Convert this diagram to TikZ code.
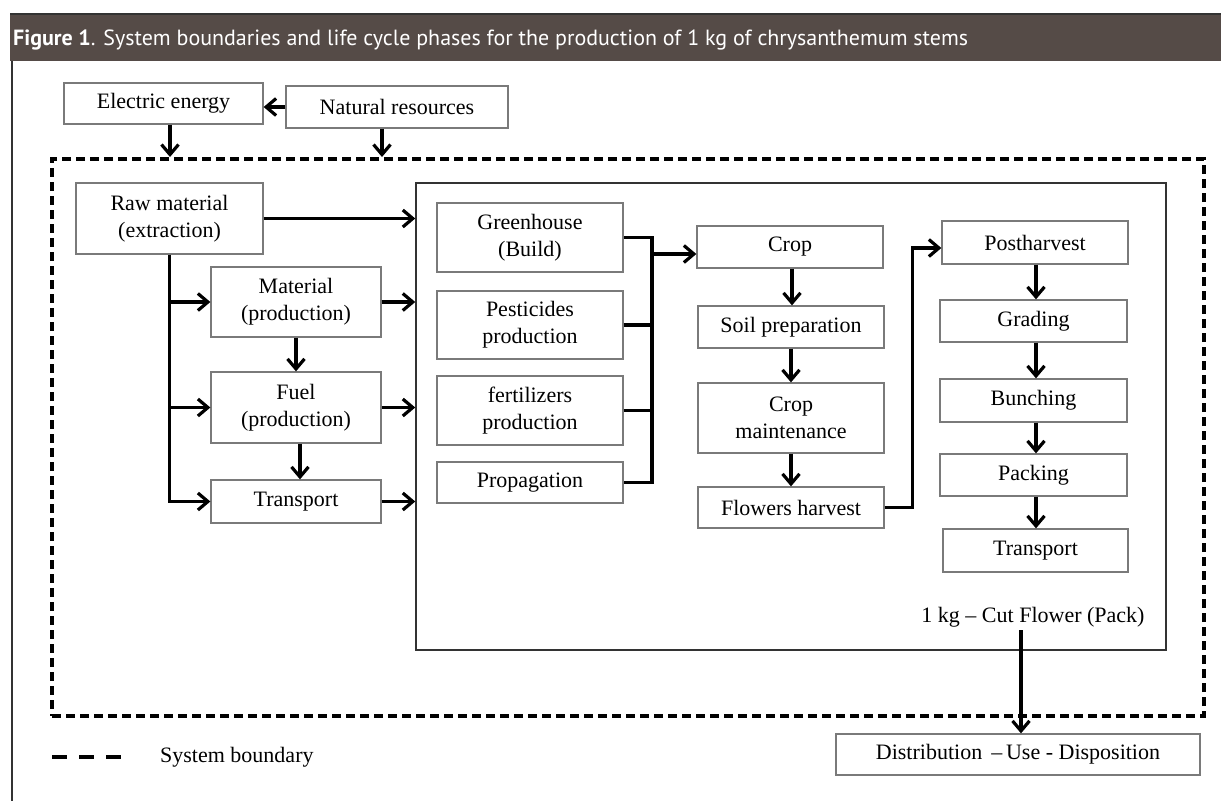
\documentclass[tikz,border=0pt]{standalone}
\usepackage{fontspec}
\setmainfont{Liberation Serif}
\newfontfamily\hdrfont{PT Sans}
\usetikzlibrary{arrows.meta,calc}
\definecolor{hdr}{HTML}{554B47}
\definecolor{hdrline}{HTML}{333333}
\definecolor{boxgray}{HTML}{7A7A7A}
\definecolor{innergray}{HTML}{333333}
\begin{document}
\begin{tikzpicture}[x=1pt,y=-1pt,
  box/.style={draw=boxgray, line width=1.3pt, fill=white, inner sep=0pt, align=center,
    font=\fontsize{22}{27}\selectfont},
  arr/.style={line width=3.2pt, -{Straight Barb[length=10pt,width=17pt]}},
  ln/.style={line width=3.2pt},
  bound/.style={draw=black, line width=4pt, dash pattern=on 9pt off 5pt, inner sep=0pt},
  lbl/.style={inner sep=0pt, font=\fontsize{22}{27}\selectfont}]
\useasboundingbox (0,0) rectangle (1221,801);
% frame and header
\fill[white] (0,0) rectangle (1221,801);
\fill[hdr] (10,13) rectangle (1221,61);
\draw[hdrline, line width=2.5pt] (10,14) -- (1221,14);
\draw[hdrline, line width=2.5pt] (12,61) -- (12,801);
\node[anchor=base west, text=white, inner sep=0pt] (title) at (13,45)
  {\resizebox{955pt}{!}{\hdrfont\fontsize{20}{24}\selectfont\textbf{Figure 1}. System boundaries and life cycle phases for the production of 1 kg of chrysanthemum stems}};
% system boundary and inner box
\node[bound, minimum width=1152pt, minimum height=557pt] (bnd) at (628,437.5) {};
\node[draw=innergray, line width=1.5pt, inner sep=0pt, minimum width=750pt, minimum height=467pt] (inner) at (791,416.5) {};
% top inputs
\node[box, minimum width=199pt, minimum height=41pt] (elec) at (163.5,103.5) {Electric energy};
\node[box, minimum width=222pt, minimum height=42pt] (nat) at (397,107) {Natural resources};
% left column
\node[box, minimum width=187pt, minimum height=71pt] (raw) at (169.5,218.5) {Raw material\\(extraction)};
\node[box, minimum width=170pt, minimum height=70pt] (mat) at (296,302) {Material\\(production)};
\node[box, minimum width=170pt, minimum height=71pt] (fuel) at (296,407.5) {Fuel\\(production)};
\node[box, minimum width=170pt, minimum height=43pt] (tr1) at (296,501.5) {Transport};
% inputs column
\node[box, minimum width=186pt, minimum height=69pt] (green) at (530,237.5) {Greenhouse\\(Build)};
\node[box, minimum width=186pt, minimum height=68pt] (pest) at (530,325) {Pesticides\\production};
\node[box, minimum width=186pt, minimum height=69pt] (fert) at (530,410.5) {fertilizers\\production};
\node[box, minimum width=186pt, minimum height=41pt] (prop) at (530,482.5) {Propagation};
% crop column
\node[box, minimum width=186pt, minimum height=42pt] (crop) at (790,247) {Crop};
\node[box, minimum width=186pt, minimum height=42pt] (soil) at (791,327) {Soil preparation};
\node[box, minimum width=186pt, minimum height=70pt] (maint) at (791,418) {Crop\\maintenance};
\node[box, minimum width=186pt, minimum height=41pt] (harv) at (791,507.5) {Flowers harvest};
% postharvest column
\node[box, minimum width=186pt, minimum height=43pt] (post) at (1035,242.5) {Postharvest};
\node[box, minimum width=187pt, minimum height=42pt] (grad) at (1033.5,321) {Grading};
\node[box, minimum width=187pt, minimum height=43pt] (bunch) at (1033.5,400.5) {Bunching};
\node[box, minimum width=187pt, minimum height=42pt] (pack) at (1033.5,475) {Packing};
\node[box, minimum width=185pt, minimum height=43pt] (tr2) at (1035.5,550.5) {Transport};
\node[lbl] (cut) at (1033,617) {1 kg -- Cut Flower (Pack)};
% output
\node[box, minimum width=364pt, minimum height=41pt] (dist) at (1018,754.5) {Distribution \,--\,Use - Disposition};
% legend
\coordinate (lg1) at (52,757);
\coordinate (lg2) at (123,757);
\draw[line width=4pt, dash pattern=on 15pt off 12pt] (lg1) -- (lg2);
\node[lbl, anchor=west] (lgt) at (160,757) {System boundary};
% connectors: top
\draw[arr] (nat.west) -- (nat.west -| elec.east);
\coordinate (e1) at ([xshift=6.5pt]elec.south);
\draw[arr] (e1) -- (e1 |- bnd.north);
\coordinate (n1) at ([xshift=-15pt]nat.south);
\draw[arr] (n1) -- (n1 |- bnd.north);
% left column
\draw[arr] (raw.east) -- (raw.east -| inner.west);
\draw[arr] (raw.south) |- (tr1.west);
\draw[arr] (raw.south |- mat.west) -- (mat.west);
\draw[arr] (raw.south |- fuel.west) -- (fuel.west);
\draw[arr] (mat.south) -- (fuel.north);
\coordinate (f1) at ([xshift=4pt]fuel.south);
\draw[arr] (f1) -- (f1 |- tr1.north);
\draw[arr] (mat.east) -- (mat.east -| inner.west);
\draw[arr] (fuel.east) -- (fuel.east -| inner.west);
\draw[arr] (tr1.east) -- (tr1.east -| inner.west);
% merge to crop
\coordinate (mx) at (652,254);
\draw[ln] (green.east) -- (green.east -| mx) -- (prop.east -| mx) -- (prop.east);
\draw[ln] (pest.east) -- (pest.east -| mx);
\draw[ln] (fert.east) -- (fert.east -| mx);
\coordinate (c0) at ([yshift=-7pt]crop.west);
\draw[arr] (mx) -- (c0);
% crop chain
\coordinate (c1) at ([xshift=2pt]crop.south);
\draw[arr] (c1) -- (c1 |- soil.north);
\draw[arr] (soil.south) -- (maint.north);
\draw[arr] (maint.south) -- (harv.north);
% harvest to postharvest
\coordinate (p0) at ([yshift=-5.5pt]post.west);
\draw[arr] (harv.east) -- ++(28,0) |- (p0);
% post chain
\coordinate (p1) at ([xshift=1pt]post.south);
\draw[arr] (p1) -- (p1 |- grad.north);
\coordinate (p2) at ([xshift=2.5pt]grad.south);
\draw[arr] (p2) -- (p2 |- bunch.north);
\coordinate (p3) at ([xshift=2.5pt]bunch.south);
\draw[arr] (p3) -- (p3 |- pack.north);
\coordinate (p4) at ([xshift=2.5pt]pack.south);
\draw[arr] (p4) -- (p4 |- tr2.north);
% to distribution
\coordinate (k1) at ([xshift=-12pt,yshift=-3pt]cut.south);
\draw[arr] (k1) -- (k1 |- dist.north);
\end{tikzpicture}
\end{document}
